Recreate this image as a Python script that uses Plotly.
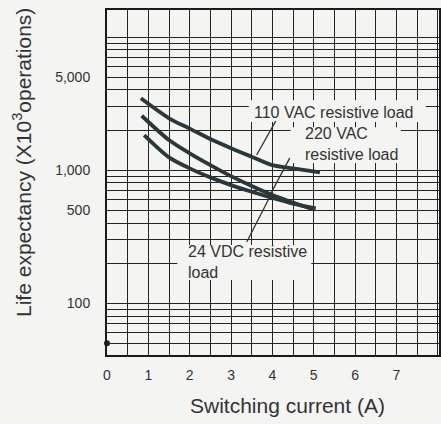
import math
import plotly.graph_objects as go

# ---- data ----
current_110 = [0.82, 1.5, 2.0, 2.5, 3.0, 3.5, 4.0, 4.5, 5.15]
life_110 = [3460, 2450, 2050, 1710, 1460, 1260, 1090, 1030, 960]

current_220 = [0.84, 1.5, 2.0, 2.5, 3.0, 3.5, 4.0, 4.5, 5.0]
life_220 = [2560, 1680, 1335, 1090, 900, 758, 649, 570, 505]

current_24 = [0.9, 1.5, 2.0, 2.5, 3.0, 3.5, 4.0, 4.5, 5.05]
life_24 = [1830, 1245, 1030, 881, 771, 687, 617, 560, 515]

origin_x = [0.0]
origin_y = [50]

x_grid = [0, 0.5, 1, 1.5, 2, 2.5, 3, 3.5, 4, 4.5, 5, 5.5, 6, 6.5, 7, 7.5, 8]
x_labels = ["0", "", "1", "", "2", "", "3", "", "4", "", "5", "", "6", "", "7", "", ""]

y_grid = [50, 60, 70, 80, 90, 100, 200, 300, 400, 500, 600, 700, 800, 900,
          1000, 2000, 3000, 4000, 5000, 6000, 7000, 8000, 9000, 10000]
y_labels = ["", "", "", "", "", "100", "", "", "", "500", "", "", "", "",
            "1,000", "", "", "", "5,000", "", "", "", "", ""]

series_names = ["110 VAC resistive load", "220 VAC resistive load", "24 VDC resistive load"]

# ---- style ----
BG = "#f4f4f2"
INK = "#2b3739"
GRID = "#242424"
FONT = "Liberation Sans, Arial, sans-serif"

fig = go.Figure()
for xs, ys, nm in [(current_110, life_110, series_names[0]),
                   (current_220, life_220, series_names[1]),
                   (current_24, life_24, series_names[2])]:
    fig.add_trace(go.Scatter(x=xs, y=ys, mode="lines", name=nm,
                             line=dict(color=INK, width=3.8, shape="spline", smoothing=0.8),
                             showlegend=False))

fig.add_trace(go.Scatter(x=origin_x, y=origin_y, mode="markers", showlegend=False,
                         marker=dict(color="#222", size=6), cliponaxis=False))

# white label boxes that interrupt the grid
boxes = [(3.43, 7.71, 2300, 3350), (4.44, 7.11, 1130, 2100), (1.70, 4.94, 149, 273)]
for x0, x1, y0, y1 in boxes:
    fig.add_shape(type="rect", xref="x", yref="y", x0=x0, x1=x1, y0=y0, y1=y1,
                  fillcolor=BG, line=dict(width=0), layer="between")

# leader lines from the labels to the curves
leaders = [((3.62, 1297), (4.08, 2335)), ((3.96, 665), (4.42, 1230)), ((3.93, 622), (3.38, 288))]
for (hx, hy), (tx, ty) in leaders:
    fig.add_shape(type="line", xref="x", yref="y", x0=tx, y0=ty, x1=hx, y1=hy,
                  line=dict(color="#333", width=1.3), layer="above")

lab_font = dict(family=FONT, size=16, color="#333")
labels = [
    ("110 VAC resistive load", 5.47, 2730, "center"),
    ("220 VAC<br>resistive load", 4.75, 1570, "left"),
    ("24 VDC resistive<br>load", 1.91, 203, "left"),
]
for txt, x, y, anc in labels:
    fig.add_annotation(text=txt, x=x, y=math.log10(y), xref="x", yref="y", align="left",
                       xanchor=anc, yanchor="middle", showarrow=False, font=lab_font)

# axis titles
fig.add_annotation(text="Life expectancy (X10<sup>3</sup>operations)", textangle=-90,
                   xref="paper", yref="paper", x=-0.2545, y=0.558, xanchor="center",
                   yanchor="middle", showarrow=False, font=dict(family=FONT, size=21, color="#333"))
fig.add_annotation(text="Switching current (A)", xref="paper", yref="paper", x=0.545, y=-0.145,
                   xanchor="center", yanchor="middle", showarrow=False,
                   font=dict(family=FONT, size=21, color="#333"))

fig.update_layout(
    width=441, height=424,
    margin=dict(l=107, r=0, t=10, b=69),
    paper_bgcolor=BG, plot_bgcolor=BG,
    xaxis=dict(range=[0, 8.03], tickmode="array", tickvals=x_grid, ticktext=x_labels,
               showgrid=True, gridcolor=GRID, gridwidth=1.4, zeroline=False,
               showline=True, linecolor="#1a1a1a", linewidth=2, mirror=True,
               ticks="", ticklabelstandoff=6,
               tickfont=dict(family=FONT, size=14, color="#333")),
    yaxis=dict(type="log", range=[1.61, 4.203], tickmode="array", tickvals=y_grid, ticktext=y_labels,
               showgrid=True, gridcolor=GRID, gridwidth=1.4, zeroline=False,
               showline=True, linecolor="#1a1a1a", linewidth=2, mirror=True,
               ticks="", ticklabelstandoff=12,
               tickfont=dict(family=FONT, size=14, color="#333")),
)

fig.write_html("out.html", config={"displayModeBar": False},
               post_script="document.body.style.margin='0';document.body.style.overflow='hidden';"
                           "document.body.style.background='" + BG + "';")
